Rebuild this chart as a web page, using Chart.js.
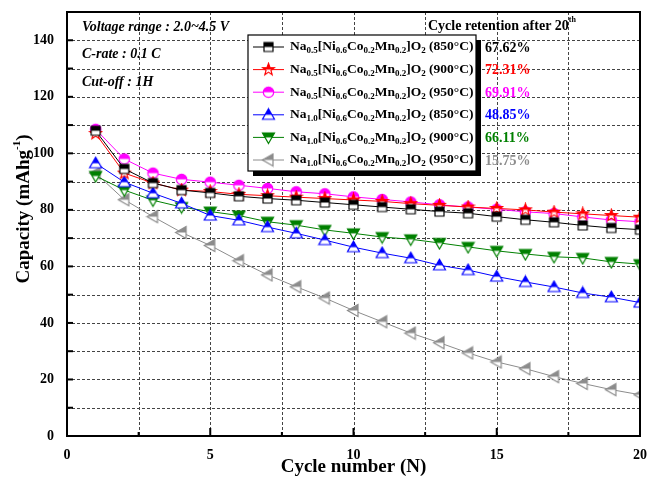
<!DOCTYPE html>
<html>
<head>
<meta charset="utf-8">
<script src="https://cdn.jsdelivr.net/npm/chart.js@4"></script>
<style>
  html, body { margin: 0; padding: 0; background: #fff; }
  #wrap { width: 649px; height: 480px; }
</style>
</head>
<body>
<div id="wrap"><canvas id="capacityChart" width="649" height="480"></canvas></div>
<script>
// cycle number and discharge capacity (mAh/g) per sample
const cycles = [1, 2, 3, 4, 5, 6, 7, 8, 9, 10, 11, 12, 13, 14, 15, 16, 17, 18, 19, 20];
const na05_850 = [108, 94.5, 89.5, 87, 86, 84.8, 84, 83.4, 82.6, 81.8, 81, 80.2, 79.4, 78.8, 77.6, 76.5, 75.6, 74.5, 73.6, 73];
const na05_900 = [107, 93, 89.5, 87, 86.5, 85.5, 85, 84.5, 84, 83.5, 83, 82.2, 81.6, 81, 80.5, 80, 79.2, 78.6, 78, 77.4];
const na05_950 = [108.5, 98, 93, 90.8, 89.8, 88.7, 87.6, 86.4, 85.7, 84.6, 83.7, 82.8, 81.8, 81, 80.2, 79.3, 78.7, 77.5, 76.4, 75.8];
const na10_850 = [96.5, 89.8, 85.9, 82.3, 78, 76.3, 73.9, 71.7, 69.3, 66.8, 64.7, 62.9, 60.4, 58.7, 56.4, 54.5, 52.7, 50.6, 49.1, 47.2];
const na10_900 = [92, 87, 83.4, 81, 79.4, 78, 75.8, 74.6, 72.9, 71.7, 70.4, 69.6, 68.3, 66.9, 65.5, 64.4, 63.4, 63, 61.6, 60.8];
const na10_950 = [93, 83.6, 77.6, 72, 67.4, 62, 57, 52.8, 48.8, 44.4, 40.4, 36.4, 33, 29.4, 26.2, 23.8, 21, 18.6, 16.4, 14.6];
const retention = ['67.62%', '72.31%', '69.91%', '48.85%', '66.11%', '15.75%'];
const temps = ['850', '900', '950', '850', '900', '950'];
const naContent = ['0.5', '0.5', '0.5', '1.0', '1.0', '1.0'];
const notes = ['Voltage range : 2.0~4.5 V', 'C-rate : 0.1 C', 'Cut-off : 1H'];

const colors = ['#000000', '#ff0000', '#ff00ff', '#0000ff', '#008000', '#8c8c8c'];
const shapes = ['square', 'star', 'circle', 'up', 'down', 'left'];
const serif = '"Liberation Serif", "Times New Roman", serif';

// half-filled markers like the Origin plot
function marker(shape, color) {
    const s = 15, m = s / 2;
    const c = document.createElement('canvas');
    c.width = s; c.height = s;
    const g = c.getContext('2d');
    function path() {
        g.beginPath();
        if (shape === 'square') g.rect(m - 4.5, m - 4.5, 9, 9);
        else if (shape === 'circle') g.arc(m, m, 5.2, 0, Math.PI * 2);
        else if (shape === 'up') { g.moveTo(m, m - 6); g.lineTo(m + 6, m + 4.5); g.lineTo(m - 6, m + 4.5); }
        else if (shape === 'down') { g.moveTo(m, m + 6); g.lineTo(m + 6, m - 4.5); g.lineTo(m - 6, m - 4.5); }
        else if (shape === 'left') { g.moveTo(m - 6, m); g.lineTo(m + 4.5, m - 6); g.lineTo(m + 4.5, m + 6); }
        else if (shape === 'star') {
            for (let i = 0; i < 10; i++) {
                const r = i % 2 ? 2.6 : 6.2;
                const a = -Math.PI / 2 + i * Math.PI / 5;
                g.lineTo(m + r * Math.cos(a), m + r * Math.sin(a));
            }
        }
        g.closePath();
    }
    path(); g.fillStyle = '#fff'; g.fill();
    g.save(); g.beginPath(); g.rect(0, 0, s, m); g.clip();
    path(); g.fillStyle = color; g.fill(); g.restore();
    path(); g.strokeStyle = color; g.lineWidth = 1.2; g.stroke();
    return c;
}

const markers = shapes.map((sh, i) => marker(sh, colors[i]));
const series = [na05_850, na05_900, na05_950, na10_850, na10_900, na10_950];

const datasets = series.map((vals, i) => ({
    label: 'Na' + naContent[i] + ' ' + temps[i],
    data: vals.map((v, k) => ({ x: cycles[k], y: v })),
    borderColor: colors[i],
    borderWidth: 1,
    pointStyle: markers[i],
    pointRadius: 6,
    tension: 0
}));

// draw text with subscripts, returns end x
function richText(ctx, parts, x, y, size) {
    for (const [txt, sub] of parts) {
        ctx.font = 'bold ' + (sub ? Math.round(size * 0.66) : size) + 'px ' + serif;
        ctx.fillText(txt, x, sub ? y + 4 : y);
        x += ctx.measureText(txt).width;
    }
    return x;
}

// dashed grid behind the data
const dashedGrid = {
    id: 'dashedGrid',
    beforeDatasetsDraw(chart) {
        const ctx = chart.ctx;
        const a = chart.chartArea;
        const xs = chart.scales.x, ys = chart.scales.y;
        ctx.save();
        ctx.strokeStyle = '#444';
        ctx.lineWidth = 1;
        ctx.setLineDash([3, 2]);
        for (let v = 10; v < 150; v += 10) {
            const py = Math.round(ys.getPixelForValue(v)) + 0.5;
            ctx.beginPath(); ctx.moveTo(a.left, py); ctx.lineTo(a.right, py); ctx.stroke();
        }
        for (let v = 2.5; v < 20; v += 2.5) {
            const px = Math.round(xs.getPixelForValue(v)) + 0.5;
            ctx.beginPath(); ctx.moveTo(px, a.top); ctx.lineTo(px, a.bottom); ctx.stroke();
        }
        ctx.restore();
    }
};

const overlay = {
    id: 'overlay',
    afterDraw(chart) {
        const ctx = chart.ctx;
        const a = chart.chartArea;
        const xs = chart.scales.x, ys = chart.scales.y;
        ctx.save();
        // inward tick marks
        ctx.strokeStyle = '#000';
        ctx.lineWidth = 2;
        for (let v = 10; v < 150; v += 10) {
            const py = ys.getPixelForValue(v);
            ctx.beginPath(); ctx.moveTo(a.left, py); ctx.lineTo(a.left + 6, py); ctx.stroke();
        }
        for (let v = 2.5; v < 20; v += 2.5) {
            const px = xs.getPixelForValue(v);
            const len = v % 5 === 0 ? 8 : 4;
            ctx.beginPath(); ctx.moveTo(px, a.bottom); ctx.lineTo(px, a.bottom - len); ctx.stroke();
        }
        // frame
        ctx.strokeRect(a.left, a.top, a.right - a.left, a.bottom - a.top);

        // y axis title with superscript
        ctx.save();
        ctx.translate(24, 209);
        ctx.rotate(-Math.PI / 2);
        ctx.fillStyle = '#000';
        ctx.textBaseline = 'middle';
        const t1 = 'Capacity (mAhg';
        ctx.font = 'bold 19px ' + serif;
        const w1 = ctx.measureText(t1).width;
        ctx.font = 'bold 11px ' + serif;
        const w2 = ctx.measureText('-1').width;
        ctx.font = 'bold 19px ' + serif;
        const w3 = ctx.measureText(')').width;
        let tx = -(w1 + w2 + w3) / 2;
        ctx.fillText(t1, tx, 0);
        ctx.font = 'bold 11px ' + serif;
        ctx.fillText('-1', tx + w1, -7);
        ctx.font = 'bold 19px ' + serif;
        ctx.fillText(')', tx + w1 + w2, 0);
        ctx.restore();

        // notes
        ctx.fillStyle = '#000';
        ctx.textBaseline = 'middle';
        ctx.font = 'italic bold 14px ' + serif;
        notes.forEach((t, i) => ctx.fillText(t, 82, 27 + i * 27.5));

        // legend box with shadow
        const bx = 248, by = 35, bw = 228, bh = 136;
        ctx.fillStyle = '#000';
        ctx.fillRect(bx + 5, by + 5, bw, bh);
        ctx.fillStyle = '#fff';
        ctx.fillRect(bx, by, bw, bh);
        ctx.lineWidth = 1.2;
        ctx.strokeStyle = '#000';
        ctx.strokeRect(bx, by, bw, bh);

        for (let i = 0; i < 6; i++) {
            const ry = 47 + i * 22.6;
            ctx.strokeStyle = colors[i];
            ctx.lineWidth = 1;
            ctx.beginPath(); ctx.moveTo(253, ry); ctx.lineTo(284, ry); ctx.stroke();
            ctx.drawImage(markers[i], 268.5 - 7.5, ry - 7.5);
            ctx.fillStyle = '#000';
            richText(ctx, [['Na', 0], [naContent[i], 1], ['[Ni', 0], ['0.6', 1], ['Co', 0], ['0.2', 1],
                ['Mn', 0], ['0.2', 1], [']O', 0], ['2', 1], [' (' + temps[i] + '\u00B0C)', 0]], 290, ry, 13.5);
            ctx.fillStyle = colors[i];
            ctx.font = 'bold 14px ' + serif;
            ctx.fillText(retention[i], 485, ry + 1);
        }

        // retention header
        ctx.fillStyle = '#000';
        ctx.font = 'bold 14px ' + serif;
        const head = 'Cycle retention after 20';
        ctx.fillText(head, 428, 26);
        const hw = ctx.measureText(head).width;
        ctx.font = 'bold 8px ' + serif;
        ctx.fillText('th', 428 + hw, 20);
        ctx.restore();
    }
};

const ctx = document.getElementById('capacityChart').getContext('2d');
new Chart(ctx, {
    type: 'line',
    data: { datasets: datasets },
    options: {
        responsive: false,
        animation: false,
        layout: { padding: { top: 12, right: 9, left: 4, bottom: 2 } },
        plugins: { legend: { display: false }, tooltip: { enabled: false } },
        scales: {
            x: {
                type: 'linear',
                min: 0, max: 20,
                afterFit(s) { s.height = 42; s.paddingLeft = 0; s.paddingRight = 0; },
                grid: { display: false },
                border: { display: false },
                ticks: {
                    stepSize: 2.5, autoSkip: false, color: '#000', padding: 3,
                    font: { family: serif, size: 14, weight: 'bold' },
                    callback: v => (v % 5 === 0 ? v : '')
                },
                title: {
                    display: true, text: 'Cycle number (N)', color: '#000', padding: 0,
                    font: { family: serif, size: 19, weight: 'bold' }
                }
            },
            y: {
                min: 0, max: 150,
                afterFit(s) { s.width = 63; s.paddingTop = 0; s.paddingBottom = 0; },
                grid: { display: false },
                border: { display: false },
                ticks: {
                    stepSize: 10, autoSkip: false, color: '#000', padding: 5,
                    font: { family: serif, size: 14, weight: 'bold' },
                    callback: v => (v % 20 === 0 && v < 150 ? v : '')
                }
            }
        }
    },
    plugins: [dashedGrid, overlay]
});
</script>
</body>
</html>
